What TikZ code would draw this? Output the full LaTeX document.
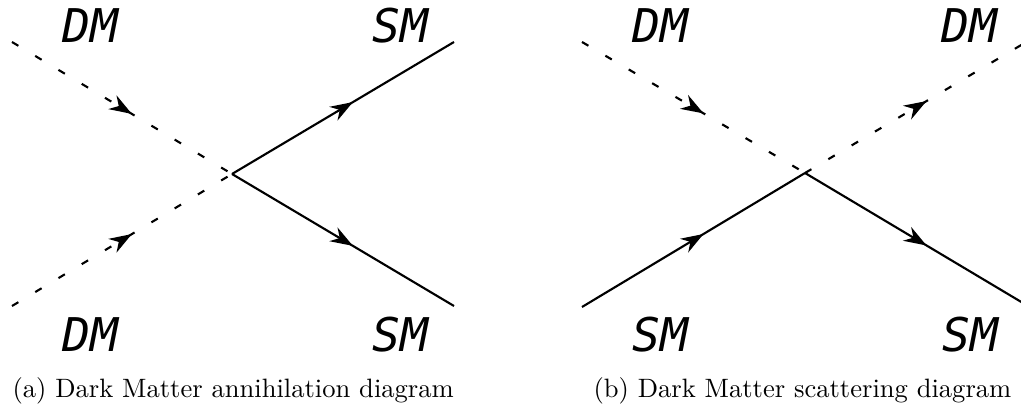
\documentclass[tikz,border=0pt]{standalone}
\usepackage{fontspec}
\newfontfamily\lblfont{DejaVu Sans Mono}
\usetikzlibrary{arrows.meta,decorations.markings}
\tikzset{
  midarrow/.style={postaction={decorate},
    decoration={markings, mark=at position 0.5 with {\arrow[xshift=4.4pt]{Stealth[length=8.5pt,width=6pt]}}}},
  fermion/.style={draw, line width=0.8pt, midarrow},
  scalar/.style={draw, line width=0.8pt, dash pattern=on 2.8pt off 7.4pt, midarrow},
  lbl/.style={anchor=base, inner sep=0pt, font=\lblfont\itshape\fontsize{17.5}{20}\selectfont},
  captext/.style={anchor=base west, inner sep=0pt, font=\fontsize{10}{12}\selectfont},
}
\begin{document}
\begin{tikzpicture}[x=0.3764pt, y=-0.3764pt]
\useasboundingbox (0,0) rectangle (1021,409);
\clip (0,0) rectangle (1021,409);
% left diagram
\coordinate (v1) at (232,174);
\coordinate (a1) at (12,42);
\coordinate (a2) at (12,306);
\coordinate (b1) at (454,42);
\coordinate (b2) at (454,306);
\draw[scalar] (a1) -- (v1);
\draw[scalar] (a2) -- (v1);
\draw[fermion] (v1) -- (b1);
\draw[fermion] (v1) -- (b2);
\node[lbl] (la1) at (90,43) {DM};
\node[lbl] (la2) at (90,352) {DM};
\node[lbl] (lb1) at (400,43) {SM};
\node[lbl] (lb2) at (400,352) {SM};
\node[captext] (capa) at (12,398) {(a) Dark Matter annihilation diagram};
% right diagram
\coordinate (v2) at (805,173);
\coordinate (c1) at (582,42);
\coordinate (c2) at (582,307);
\coordinate (d1) at (1028,41);
\coordinate (d2) at (1028,306);
\draw[scalar] (c1) -- (v2);
\draw[scalar] (v2) -- (d1);
\draw[fermion] (c2) -- (v2);
\draw[fermion] (v2) -- (d2);
\node[lbl] (lc1) at (660,43) {DM};
\node[lbl] (ld1) at (969,43) {DM};
\node[lbl] (lc2) at (660,352) {SM};
\node[lbl] (ld2) at (970,352) {SM};
\node[captext] (capb) at (593,398) {(b) Dark Matter scattering diagram};
\end{tikzpicture}
\end{document}
